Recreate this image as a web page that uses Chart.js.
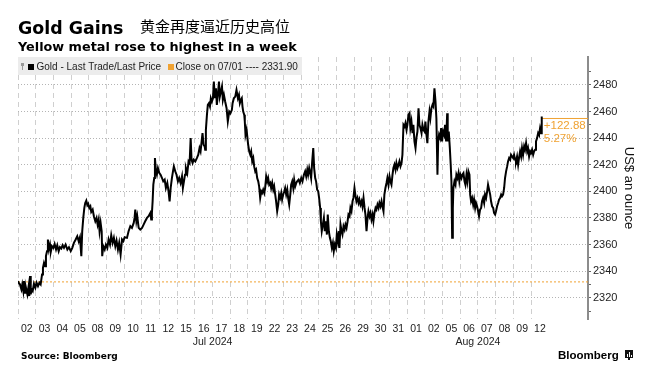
<!DOCTYPE html>
<html><head><meta charset="utf-8">
<script src="https://cdn.jsdelivr.net/npm/chart.js@4.4.1/dist/chart.umd.min.js"></script>
<style>html,body{margin:0;padding:0;background:#fff;overflow:hidden}#wrap{position:relative;width:648px;height:379px}</style>
</head><body><div id="wrap"><canvas id="c" width="648" height="379"></canvas></div>
<script>
// ---------- data ----------
const titleText = 'Gold Gains';
const titleZh = '黄金再度逼近历史高位';
const subtitleText = 'Yellow metal rose to highest in a week';
const sourceText = 'Source: Bloomberg';
const seriesName = 'Gold - Last Trade/Last Price';
const refName = 'Close on 07/01';
const refClose = 2331.90;
const yTitle = 'US$ an ounce';

const dayLabels = ['02','03','04','05','08','09','10','11','12','15','16','17','18','19','22','23','24','25','26','29','30','31','01','02','05','06','07','08','09','12'];
const monthLabels = ['Jul 2024','Aug 2024'];
const monthFirstDay = [0, 22];
const monthEndDay = [22, 30];
const yTickLabels = [2320,2340,2360,2380,2400,2420,2440,2460,2480];
const yMinorStep = 10;
const xAxisEnd = 32.22;
const yMin = 2304, yMax = 2501;

// time in trading days since Jul 02 open (fractional), price in US$
const goldTime = [0,0.06,0.11,0.19,0.24,0.30,0.34,0.40,0.45,0.53,0.60,0.64,0.68,0.72,0.77,0.83,0.90,0.98,1.05,1.13,1.21,1.28,1.36,1.41,1.47,1.53,1.58,1.64,1.69,1.75,1.81,1.86,1.92,2.00,2.07,2.15,2.22,2.30,2.37,2.45,2.52,2.60,2.69,2.79,2.88,2.98,3.07,3.16,3.26,3.35,3.43,3.50,3.58,3.63,3.69,3.75,3.80,3.86,3.92,3.97,4.03,4.09,4.14,4.22,4.29,4.37,4.44,4.50,4.56,4.61,4.67,4.73,4.76,4.82,4.90,4.97,5.05,5.12,5.20,5.27,5.35,5.42,5.50,5.57,5.65,5.72,5.80,5.88,5.95,6.03,
6.16,6.25,6.35,6.44,6.54,6.59,6.63,6.69,6.74,6.82,6.91,7.01,7.10,7.19,7.29,7.38,7.48,7.53,7.57,7.61,7.65,7.70,7.74,7.80,7.85,7.91,7.99,8.06,8.14,8.21,8.29,8.36,8.44,8.51,8.57,8.63,8.70,8.76,8.81,8.89,8.96,9.04,9.11,9.19,9.27,9.32,9.38,9.44,9.49,9.57,9.64,9.70,9.76,9.81,9.87,9.93,10.02,10.11,10.19,10.26,10.32,10.38,10.43,10.49,10.55,10.58,10.62,10.68,10.73,10.79,10.85,10.90,10.96,11.02,11.07,11.13,11.19,11.24,11.30,11.36,11.41,11.47,11.53,11.58,11.64,11.71,11.79,11.86,11.94,12.01,12.09,
12.13,12.20,12.28,12.35,12.43,12.49,12.54,12.60,12.65,12.69,12.73,12.79,12.82,12.86,12.92,12.96,13.01,13.07,13.13,13.18,13.24,13.30,13.35,13.41,13.46,13.52,13.58,13.63,13.69,13.75,13.80,13.86,13.92,13.97,14.03,14.09,14.14,14.20,14.26,14.31,14.37,14.43,14.48,14.54,14.59,14.65,14.71,14.76,14.82,14.88,14.93,14.99,15.05,15.10,15.16,15.22,15.27,15.33,15.39,15.44,15.50,15.56,15.61,15.67,15.73,15.78,15.86,15.93,16.01,16.08,16.16,16.23,16.29,16.35,16.40,16.46,16.52,16.57,16.63,16.69,16.74,16.80,16.85,16.91,16.97,17.02,17.08,17.12,17.17,17.23,17.29,17.34,17.40,17.46,17.51,17.57,17.63,17.68,17.74,17.80,17.85,17.91,17.97,18.02,18.08,18.14,
18.17,18.23,18.29,18.34,18.40,18.46,18.51,18.57,18.63,18.68,18.74,18.79,18.85,18.91,18.96,19.02,19.08,19.13,19.19,19.25,19.30,19.36,19.42,19.47,19.53,19.59,19.64,19.70,19.76,19.81,19.87,19.92,19.98,20.04,20.09,20.15,20.21,20.26,20.32,20.38,20.43,20.49,20.55,20.60,20.66,20.71,20.77,20.83,20.88,20.94,21.00,21.05,21.11,21.17,21.22,21.28,21.34,21.39,21.45,21.51,21.56,21.62,21.68,21.73,21.79,21.85,21.90,21.96,22.01,22.07,22.13,22.18,22.24,22.30,22.35,22.41,22.47,22.52,22.58,22.64,22.69,22.75,22.81,22.86,22.92,22.98,23.03,23.09,23.14,23.20,23.26,23.31,23.37,23.43,23.48,23.54,23.60,23.65,23.71,23.75,23.80,23.86,23.92,23.97,24.03,24.09,24.14,24.20,24.26,
24.29,24.35,24.41,24.46,24.50,24.54,24.58,24.61,24.67,24.73,24.78,24.84,24.90,24.95,25.01,25.07,25.12,25.18,25.24,25.29,25.35,25.40,25.46,25.52,25.56,25.61,25.67,25.73,25.78,25.84,25.89,25.95,26.01,26.06,26.12,26.18,26.23,26.29,26.35,26.40,26.46,26.52,26.57,26.63,26.69,26.74,26.80,26.86,26.91,26.97,27.02,27.08,27.14,27.19,27.25,27.31,27.36,27.42,27.48,27.53,27.59,27.65,27.70,27.76,27.82,27.87,27.93,27.99,28.04,28.10,28.15,28.21,28.27,28.32,28.38,28.44,28.49,28.55,28.61,28.66,28.72,28.78,28.83,28.89,28.95,29.00,29.06,29.12,29.17,29.23,29.28,29.34,29.40,29.45,29.51,29.57,29.60,29.61];
const goldPrice = [2332.5,2330.75,2330,2326.25,2330,2325,2332.5,2323.75,2327.5,2322.5,2328.75,2321.25,2336.25,2322.5,2326.25,2325,2330.5,2327.5,2331.25,2328.75,2331.25,2330,2337.5,2342.5,2346.25,2343.75,2351.25,2355,2363.75,2356.25,2360,2355,2358.75,2357.5,2360.5,2356.25,2359.5,2355,2358,2357,2359.5,2357.5,2360,2356.25,2358,2355,2357.5,2361.25,2363.75,2366.25,2362.5,2365.5,2351.25,2370,2380,2387.5,2391.25,2393,2389.5,2390.5,2387.5,2388.75,2384.5,2386.25,2381.25,2377.5,2380,2375,2378.75,2370,2376.25,2370,2351.25,2358.75,2356.25,2360,2357.5,2363.75,2360,2367,2361.25,2365,2358.75,2363,2356.25,2361.25,2352.5,2363.75,2362.5,2365.5,
2365,2370,2373.75,2372.5,2376.25,2380,2386.25,2377.5,2381.25,2372.5,2371.25,2372.5,2375,2377.5,2380,2381.25,2383.75,2378.75,2383.75,2392.5,2405,2410,2425,2415,2412.5,2417.5,2413.75,2412.5,2410,2407.5,2408.75,2402.5,2406.25,2400,2392.5,2402.5,2410,2415,2418.75,2415,2412.5,2407.5,2410,2406.25,2411.25,2402.5,2407.5,2412.5,2417.5,2413.75,2422.5,2421.25,2440,2423.75,2421.25,2423.75,2422.5,2425,2427.5,2432.5,2430,2437.5,2443.75,2435,2433.75,2431.25,2446.25,2457.5,2465,2466.25,2463.75,2470,2467.5,2470,2482.5,2470,2477.5,2465,2472.5,2482.5,2471.25,2475,2478.75,2468.75,2472.5,2467.5,2462.5,2452.5,2460,2458.75,2461.25,
2466.25,2470,2471.25,2476.25,2470,2472.5,2466.25,2468.75,2470,2463.75,2460,2457.5,2452.5,2442.5,2446.25,2441.25,2435,2430,2427.5,2430,2422.5,2425,2418.75,2415,2416.25,2410,2407.5,2403.75,2395,2400,2398.75,2401.25,2398.75,2402.5,2411.25,2407.5,2410,2405,2406.25,2402.5,2406.25,2401.25,2403.75,2397.5,2392.5,2385,2390,2397.5,2395,2398.75,2393.75,2397.5,2400,2402.5,2397.5,2401.25,2395,2390,2397.5,2405,2407.5,2402.5,2408.75,2403.75,2406.25,2407.5,2408.75,2406.25,2410,2407.5,2412.5,2415,2411.25,2416.25,2412.5,2417.5,2413.75,2410,2422.5,2432.5,2417.5,2410,2407.5,2401.25,2400,2395,2387.5,2377.5,2370,2375,2380,2370,2377.5,2367.5,2382.5,2370,2365,2362.5,2357.5,2361.25,2355,2360,2357.5,2367.5,2362.5,2370,
2357.5,2375,2370,2367.5,2373.75,2371.25,2375,2372.5,2377.5,2382.5,2381.25,2387.5,2385,2392.5,2395,2402.5,2396.25,2392.5,2395,2391.25,2393.75,2390,2392.5,2388.75,2395,2387.5,2382.5,2370,2380,2385,2381.25,2383.75,2378.75,2382.5,2377.5,2383.75,2387.5,2386.25,2390,2387.5,2391.25,2388.75,2392.5,2388.75,2385,2397.5,2402.5,2406.25,2410,2405,2411.25,2407.5,2405,2412.5,2417.5,2420,2416.25,2421.25,2417.5,2420,2422.5,2418.75,2421.25,2427.5,2450,2448.75,2451.25,2446.25,2450,2457.5,2458.75,2447.5,2452.5,2443.75,2450,2437.5,2432.5,2440,2445,2462.5,2450,2447.5,2443.75,2450,2446.25,2445,2452.5,2442.5,2436.25,2452.5,2460,2455,2462.5,2465,2463.75,2477.5,2467.5,2455,2412.5,2437.5,2442.5,2440,2447.5,2437.5,2445,2442.5,2450,2437.5,2458.75,
2437.5,2445,2432.5,2420,2407.5,2365,2387.5,2402.5,2407.5,2405,2412.5,2410,2413.75,2407.5,2412.5,2410,2412.5,2413.75,2407.5,2405,2412.5,2407.5,2415,2412.5,2397.5,2392.5,2395,2390,2393.75,2387.5,2391.25,2388.75,2385,2381.25,2386.25,2387.5,2392.5,2395,2391.25,2397.5,2395,2400,2405,2401.25,2397.5,2392.5,2388.75,2387.5,2383.75,2382.5,2385,2388.75,2391.25,2393.75,2395,2397.5,2396.25,2397.5,2402.5,2410,2415,2418.75,2422.5,2425,2423.75,2427.5,2426.25,2425,2427.5,2423.75,2422.5,2426.25,2420,2425,2430,2426.25,2432.5,2427.5,2433.75,2431.25,2436.25,2430,2432.5,2426.25,2430,2428.75,2431.25,2427.5,2430,2431.25,2437.5,2440,2443.75,2442.5,2447.5,2443.75,2456.25,2454.78];

// ---------- chart ----------
const ORANGE = '#f0a232';
const lastT = goldTime[goldTime.length - 1];
const lastP = goldPrice[goldPrice.length - 1];
const change = lastP - refClose;
const changeText = (change >= 0 ? '+' : '') + change.toFixed(2);
const pctText = (change / refClose * 100).toFixed(2) + '%';

const goldData = goldTime.map((t, i) => ({x: t, y: goldPrice[i]}));

const decor = {
  id: 'decor',
  afterDraw(chart) {
    const ctx = chart.ctx, ca = chart.chartArea;
    const xs = chart.scales.x, ys = chart.scales.y;
    ctx.save();
    ctx.textAlign = 'left';
    ctx.textBaseline = 'alphabetic';
    ctx.fillStyle = '#000';
    ctx.font = 'bold 17.4px "DejaVu Sans"';
    ctx.fillText(titleText, 18, 34);
    ctx.font = '15px "Noto Sans CJK SC"';
    ctx.fillText(titleZh, 140, 31.5);
    ctx.font = 'bold 12.8px "DejaVu Sans"';
    ctx.fillText(subtitleText, 18, 51);

    // legend bar
    ctx.fillStyle = '#ececec';
    ctx.fillRect(ca.left, ca.top, 284, 18);
    ctx.fillStyle = '#9a9a9a';
    ctx.fillRect(21, 63, 3, 3);
    ctx.fillRect(22, 66, 1, 4);
    ctx.fillStyle = '#000';
    ctx.fillRect(28, 64, 6, 6);
    ctx.fillStyle = ORANGE;
    ctx.fillRect(168, 64, 6, 6);
    ctx.font = '10px "Liberation Sans"';
    ctx.textBaseline = 'middle';
    ctx.fillStyle = '#222';
    ctx.fillText(seriesName, 36.5, 67.5);
    ctx.fillText(refName + ' ---- ' + refClose.toFixed(2), 175.5, 67.5);

    // last value annotation
    const px = xs.getPixelForValue(lastT), py = ys.getPixelForValue(lastP);
    ctx.fillStyle = ORANGE;
    ctx.font = '11.5px "Liberation Sans"';
    ctx.textBaseline = 'top';
    ctx.fillText(changeText, px + 2, py + 1.5);
    ctx.fillText(pctText, px + 2, py + 15);

    // footer
    ctx.textBaseline = 'alphabetic';
    ctx.fillStyle = '#000';
    ctx.font = 'bold 9px "DejaVu Sans"';
    ctx.fillText(sourceText, 21, 359);
    ctx.font = 'bold 11.5px "Liberation Sans"';
    ctx.fillText('Bloomberg', 558, 358.5);
    ctx.fillStyle = '#111';
    ctx.fillRect(625, 350, 8, 8);
    ctx.fillRect(628, 358, 2, 2);
    ctx.fillStyle = '#fff';
    ctx.fillRect(627, 354, 1, 3);
    ctx.fillRect(629, 352, 1, 5);
    ctx.fillRect(631, 355, 1, 2);
    ctx.restore();
  }
};

new Chart(document.getElementById('c'), {
  type: 'line',
  data: {
    datasets: [
      {label: seriesName, data: goldData, borderColor: '#000', borderWidth: 2, pointRadius: 0, tension: 0, order: 1},
      {label: refName, data: [{x: 0, y: refClose}, {x: xAxisEnd, y: refClose}], borderColor: ORANGE, borderWidth: 1, borderDash: [2, 2], pointRadius: 0, order: 2},
      {label: 'last', data: [{x: lastT, y: lastP}, {x: xAxisEnd, y: lastP}], borderColor: ORANGE, borderWidth: 1, pointRadius: 0, order: 2}
    ]
  },
  options: {
    responsive: false,
    devicePixelRatio: 1,
    animation: false,
    events: [],
    layout: {padding: {left: 18, right: 0, top: 57, bottom: 29}},
    plugins: {legend: {display: false}, tooltip: {enabled: false}, title: {display: false}},
    scales: {
      xg: {
        type: 'linear', position: 'bottom', weight: -1, min: 0, max: xAxisEnd,
        afterBuildTicks: s => { s.ticks = dayLabels.map((l, i) => ({value: i})); },
        ticks: {display: false, autoSkip: false},
        grid: {color: '#cfcfcf', lineWidth: 1, drawTicks: false},
        border: {display: false, dash: [5, 4]},
        afterFit: s => { s.height = 0; }
      },
      x: {
        type: 'linear', position: 'bottom', weight: 0, min: 0, max: xAxisEnd,
        afterBuildTicks: s => { s.ticks = dayLabels.map((l, i) => ({value: i + 0.5})); },
        ticks: {autoSkip: false, maxRotation: 0, padding: 4, color: '#222',
          font: {family: 'Liberation Sans', size: 10.5},
          callback: (v, i) => dayLabels[i]},
        grid: {display: false, drawTicks: false},
        border: {display: false},
        afterFit: s => { s.height = 17; }
      },
      xm: {
        type: 'linear', position: 'bottom', weight: 1, min: 0, max: xAxisEnd,
        afterBuildTicks: s => { s.ticks = monthLabels.map((l, i) => ({value: (monthFirstDay[i] + monthEndDay[i]) / 2})); },
        ticks: {autoSkip: false, maxRotation: 0, padding: 0, color: '#222',
          font: {family: 'Liberation Sans', size: 10.5},
          callback: (v, i) => monthLabels[i]},
        grid: {display: false, drawTicks: false},
        border: {display: false},
        afterFit: s => { s.height = 14; }
      },
      y: {
        type: 'linear', position: 'right', min: yMin, max: yMax,
        afterBuildTicks: s => {
          const t = [];
          for (let v = yTickLabels[0] - yMinorStep; v <= yTickLabels[yTickLabels.length - 1] + yMinorStep; v += yMinorStep) t.push({value: v});
          s.ticks = t;
        },
        ticks: {autoSkip: false, padding: 2, color: '#222', font: {family: 'Liberation Sans', size: 11},
          callback: v => yTickLabels.includes(v) ? String(v) : ''},
        grid: {
          color: c => (c.tick && yTickLabels.includes(c.tick.value)) ? '#b4b4b4' : 'rgba(0,0,0,0)',
          tickColor: '#666', tickLength: 3, lineWidth: 1
        },
        border: {display: true, color: '#8c8c8c', width: 2, dash: [1, 2]},
        title: {display: true, text: yTitle, color: '#111', font: {family: 'Liberation Sans', size: 13}, padding: {top: 12, bottom: 0}},
        afterFit: s => { s.width = 60; }
      }
    }
  },
  plugins: [decor]
});
</script>
</body></html>
